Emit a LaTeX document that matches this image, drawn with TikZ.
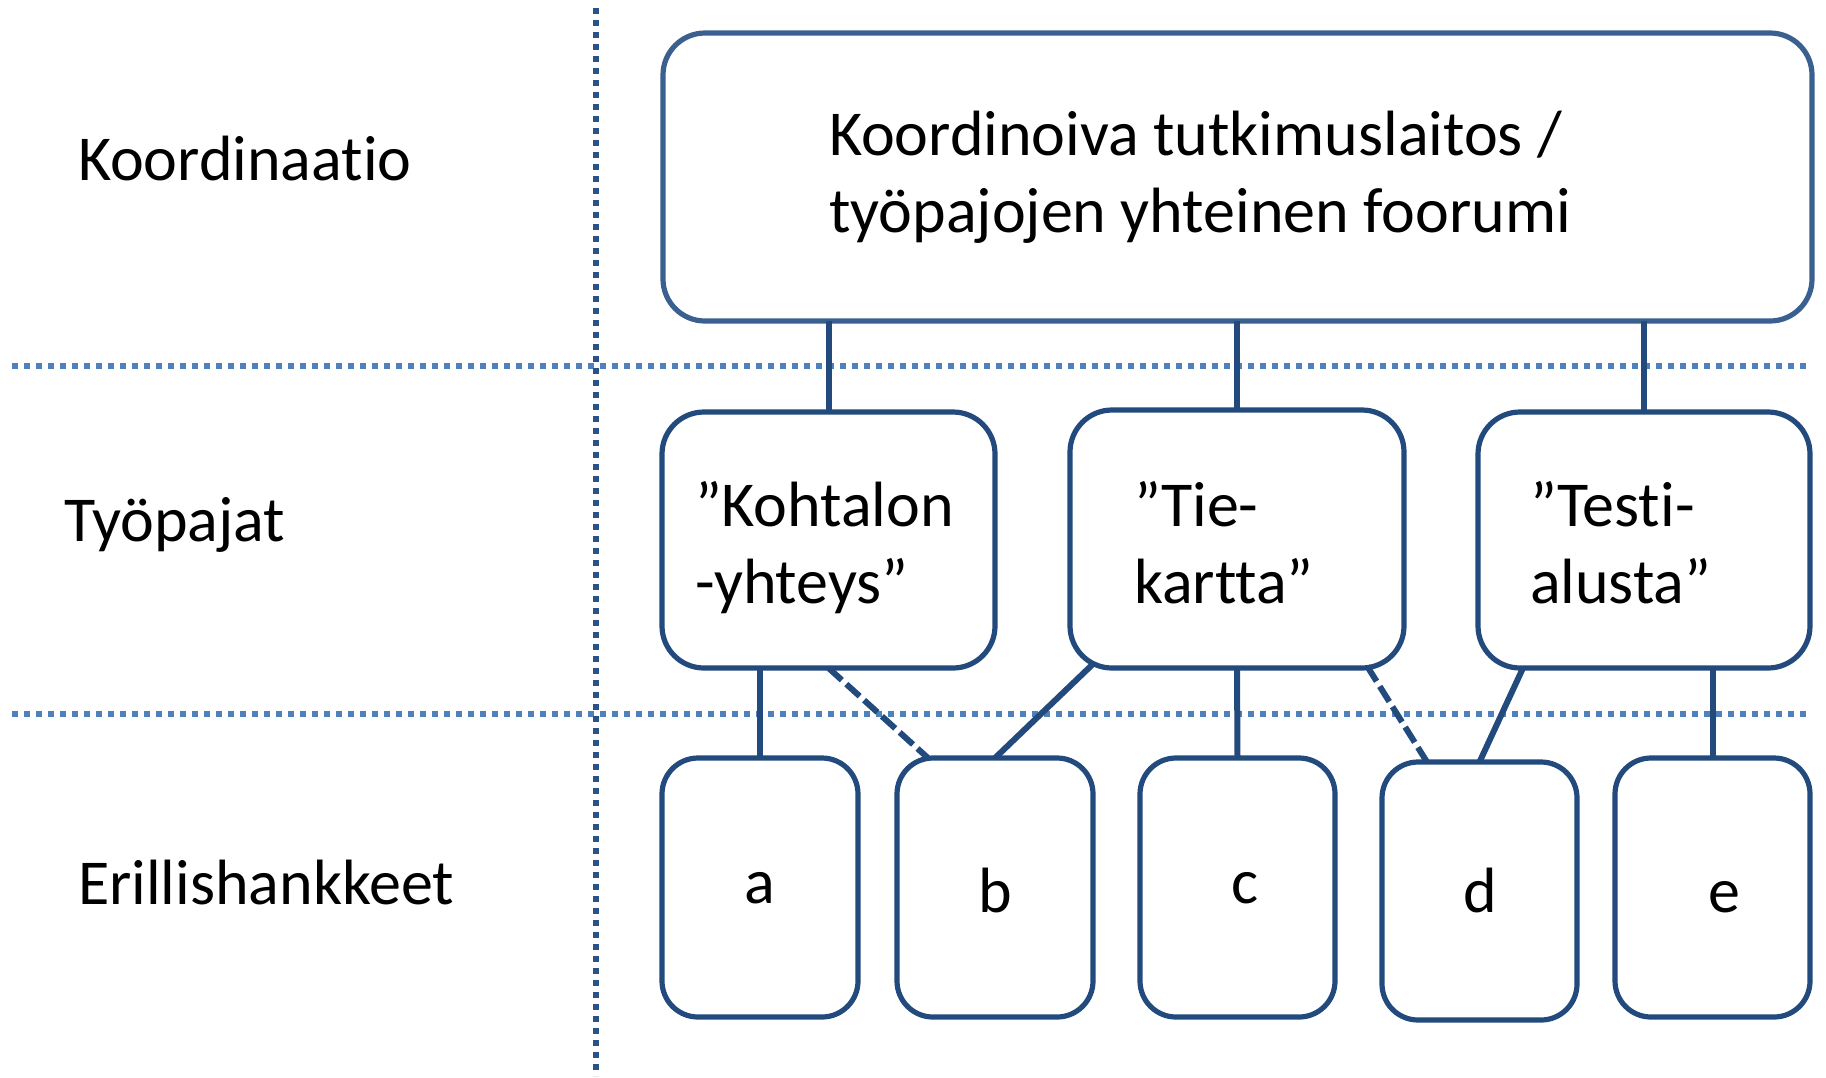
\documentclass[tikz,border=0pt]{standalone}
\usepackage{fontspec}
\setmainfont{Carlito}[Ligatures={NoCommon}]
\usetikzlibrary{fit,calc}
\definecolor{boxblue}{HTML}{234A7C}
\definecolor{topblue}{HTML}{3A6090}
\definecolor{dotblue}{HTML}{4F81BD}
\definecolor{vdotblue}{HTML}{2A5288}
\begin{document}
\begin{tikzpicture}[x=0.5pt,y=-0.5pt,
  boxbase/.style={draw, line width=2.6pt, inner sep=0pt, outer sep=0pt, fill=white},
  topbox/.style={boxbase, draw=topblue, rounded corners=21pt},
  wsbox/.style={boxbase, draw=boxblue, rounded corners=21pt},
  projbox/.style={boxbase, draw=boxblue, rounded corners=18pt},
  lbl/.style={inner sep=0pt, outer sep=0pt, font=\fontsize{32}{38.5}\selectfont, align=left},
  conn/.style={draw=boxblue, line width=3pt},
  dconn/.style={conn, dash pattern=on 9pt off 3pt},
  hdiv/.style={draw=dotblue, line width=3pt, dash pattern=on 3pt off 3pt},
  vdiv/.style={draw=vdotblue, line width=3pt, dash pattern=on 3pt off 3pt},
]
\useasboundingbox (0,0) rectangle (1826,1077);

% dividers
\coordinate (h1a) at (12,366);  \coordinate (h1b) at (1808,366);
\coordinate (h2a) at (12,714);  \coordinate (h2b) at (1808,714);
\coordinate (v1a) at (596,8);   \coordinate (v1b) at (596,1076);
\draw[hdiv] (h1a) -- (h1b);
\draw[hdiv] (h2a) -- (h2b);
\draw[vdiv] (v1a) -- (v1b);

% left labels
\node[lbl, anchor=base west] (l1) at (78,180) {Koordinaatio};
\node[lbl, anchor=base west] (l2) at (64,541) {Työpajat};
\node[lbl, anchor=base west] (l3) at (78,904) {Erillishankkeet};

% boxes
\node[topbox, fit={(663,33) (1812,321)}] (coord) {};
\node[wsbox, fit={(662,412) (995,668)}] (ws1) {};
\node[wsbox, fit={(1070,410) (1404,668)}] (ws2) {};
\node[wsbox, fit={(1478,412) (1810,668)}] (ws3) {};
\node[projbox, fit={(662,758) (858,1017)}] (pa) {};
\node[projbox, fit={(897,758) (1093,1017)}] (pb) {};
\node[projbox, fit={(1140,758) (1335,1017)}] (pc) {};
\node[projbox, fit={(1382,762) (1577,1020)}] (pd) {};
\node[projbox, fit={(1615,758) (1810,1017)}] (pe) {};

% box texts (base anchor = last line's baseline)
\node[lbl, anchor=base west] (tcoord) at (829,232) {Koordinoiva tutkimuslaitos /\\työpajojen yhteinen foorumi};
\node[lbl, anchor=base west] (t1) at (695,603) {”Kohtalon\\-yhteys”};
\node[lbl, anchor=base west] (t2) at (1134,603) {”Tie-\\kartta”};
\node[lbl, anchor=base west] (t3) at (1530,603) {”Testi-\\alusta”};
\node[lbl, anchor=base] (ta) at (760,903) {a};
\node[lbl, anchor=base] (tb) at (995,912) {b};
\node[lbl, anchor=base] (tc) at (1245,903) {c};
\node[lbl, anchor=base] (td) at (1480,912) {d};
\node[lbl, anchor=base] (te) at (1724,912) {e};

% connectors
\draw[conn] (coord.south -| ws1.north) -- (ws1.north);
\draw[conn] (coord.south -| ws2.north) -- (ws2.north);
\draw[conn] (coord.south -| ws3.north) -- (ws3.north);
\draw[conn] (ws1.south -| pa.north) -- (pa.north);
\draw[dconn] (ws1.south) -- ($(pb.north west)+(31,0)$);
\draw[conn] ($(ws2.south west)+(23,-4)$) -- (pb.north);
\draw[conn] (ws2.south) -- (pc.north);
\draw[dconn] ($(ws2.south east)+(-37,-2)$) -- ($(pd.north west)+(45,0)$);
\draw[conn] ($(ws3.south west)+(45,0)$) -- (pd.north);
\draw[conn] (ws3.south -| pe.north) -- (pe.north);
\end{tikzpicture}
\end{document}
